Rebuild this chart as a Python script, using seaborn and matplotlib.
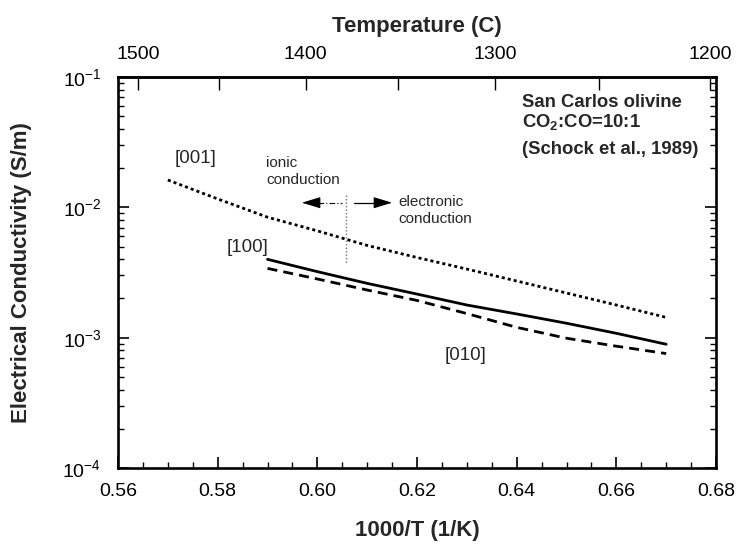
import numpy as np
import pandas as pd
import matplotlib
matplotlib.use("Agg")
import matplotlib.pyplot as plt
import seaborn as sns
from matplotlib.ticker import FixedLocator, LogLocator, NullFormatter, FormatStrFormatter

# ---------------- data ----------------
inv_T_001 = [0.57, 0.58, 0.59, 0.60, 0.61, 0.62, 0.63, 0.64, 0.65, 0.66, 0.67]
sigma_001 = [1.62e-2, 1.16e-2, 8.4e-3, 6.6e-3, 5.1e-3, 4.12e-3, 3.36e-3, 2.72e-3, 2.20e-3, 1.78e-3, 1.43e-3]

inv_T_100 = [0.59, 0.60, 0.61, 0.62, 0.63, 0.64, 0.65, 0.66, 0.67]
sigma_100 = [3.99e-3, 3.21e-3, 2.61e-3, 2.16e-3, 1.78e-3, 1.52e-3, 1.29e-3, 1.08e-3, 8.9e-4]

inv_T_010 = [0.59, 0.60, 0.61, 0.62, 0.63, 0.64, 0.65, 0.66, 0.67]
sigma_010 = [3.40e-3, 2.82e-3, 2.32e-3, 1.93e-3, 1.53e-3, 1.20e-3, 9.9e-4, 8.6e-4, 7.55e-4]

x_ticks = [0.56, 0.58, 0.60, 0.62, 0.64, 0.66, 0.68]
temp_ticks = [1500, 1400, 1300, 1200]
temp_minor = [1450, 1350, 1250]

# transition between ionic and electronic conduction
x_transition = 0.6058

# ---------------- style ----------------
sns.set_style("ticks")
plt.rcParams["font.family"] = ["Liberation Sans", "DejaVu Sans"]
plt.rcParams["mathtext.fontset"] = "custom"
plt.rcParams["mathtext.rm"] = "Liberation Sans"
plt.rcParams["mathtext.it"] = "Liberation Sans:italic"
plt.rcParams["mathtext.bf"] = "Liberation Sans:bold"
plt.rcParams["axes.unicode_minus"] = False

df = pd.concat([
    pd.DataFrame({"x": inv_T_001, "y": sigma_001, "dir": "[001]"}),
    pd.DataFrame({"x": inv_T_100, "y": sigma_100, "dir": "[100]"}),
    pd.DataFrame({"x": inv_T_010, "y": sigma_010, "dir": "[010]"}),
], ignore_index=True)

fig = plt.figure(figsize=(7.39, 5.44), dpi=100)
ax = fig.add_axes([0.1597, 0.1397, 0.8092, 0.7188])

sns.lineplot(data=df, x="x", y="y", style="dir",
             dashes={"[001]": (1.1, 1.1), "[100]": "", "[010]": (3.6, 2.2)},
             color="black", lw=2.0, sort=False, estimator=None,
             legend=False, ax=ax)

ax.set_yscale("log")
ax.set_xlim(0.56, 0.68)
ax.set_ylim(1e-4, 1e-1)

ax.set_xticks(x_ticks)
ax.xaxis.set_major_formatter(FormatStrFormatter("%.2f"))
ax.xaxis.set_minor_locator(FixedLocator(np.arange(0.565, 0.68, 0.005)))
ax.yaxis.set_major_locator(LogLocator(base=10, numticks=10))
ax.yaxis.set_minor_locator(LogLocator(base=10, subs=np.arange(2, 10), numticks=20))
ax.yaxis.set_minor_formatter(NullFormatter())

ax.tick_params(which="both", direction="in", top=False, right=True, colors="black")
ax.tick_params(which="major", length=8, width=1.2, labelsize=14)
ax.tick_params(which="minor", length=4.5, width=1.0)
ax.tick_params(axis="x", which="major", pad=11)
ax.tick_params(axis="y", which="major", pad=12)

for sp in ax.spines.values():
    sp.set_linewidth(1.9)
    sp.set_color("black")

ax.set_xlabel("1000/T (1/K)", fontsize=16, fontweight="bold")
ax.xaxis.set_label_coords(0.5, -0.159)
ax.xaxis.label.set_va("center")
ax.set_ylabel("Electrical Conductivity (S/m)", fontsize=16, fontweight="bold")
ax.yaxis.set_label_coords(-0.162, 0.5)
ax.yaxis.label.set_va("center")


def k_to_c(x):
    x = np.asarray(x, dtype=float)
    with np.errstate(divide="ignore", invalid="ignore"):
        return 1000.0 / x - 273.15


def c_to_k(t):
    t = np.asarray(t, dtype=float)
    with np.errstate(divide="ignore", invalid="ignore"):
        return 1000.0 / (t + 273.15)


secax = ax.secondary_xaxis("top", functions=(k_to_c, c_to_k))
secax.set_xticks(temp_ticks)
secax.xaxis.set_major_formatter(FormatStrFormatter("%d"))
secax.xaxis.set_minor_locator(FixedLocator(temp_minor))
secax.tick_params(which="both", direction="in", colors="black")
secax.tick_params(which="major", length=9, width=1.0, labelsize=14, pad=10)
secax.tick_params(which="minor", length=9, width=1.0)
secax.spines["top"].set_linewidth(1.9)
secax.set_xlabel("Temperature (C)", fontsize=16, fontweight="bold", labelpad=10)

# ---------------- annotations ----------------
ax.text(0.6410, 0.0591, "San Carlos olivine", fontsize=13.3, fontweight="bold", va="baseline")
ax.text(0.6410, 0.0416, r"CO$_{\mathbf{2}}$:CO=10:1", fontsize=13.3, fontweight="bold", va="baseline")
ax.text(0.6410, 0.0255, "(Schock et al., 1989)", fontsize=13.3, fontweight="bold", va="baseline")

ax.text(0.5714, 0.0218, "[001]", fontsize=13.5, va="baseline")
ax.text(0.5818, 0.00456, "[100]", fontsize=13.5, va="baseline")
ax.text(0.6256, 0.000673, "[010]", fontsize=13.5, va="baseline")

ax.text(0.5897, 0.0151, "ionic\nconduction", fontsize=11, va="baseline", linespacing=1.25)
ax.text(0.6162, 0.00762, "electronic\nconduction", fontsize=11, va="baseline", linespacing=1.25)

ax.plot([x_transition, x_transition], [1.24e-2, 3.74e-3], color="0.45",
        ls=(0, (1, 1.5)), lw=1.0)

y_arrow = 1.085e-2
ax.plot([0.6001, 0.6049], [y_arrow, y_arrow], color="black", lw=0.8, ls=(0, (5, 2, 1, 2)))
ax.annotate("", xy=(0.5969, y_arrow), xytext=(0.6001, y_arrow),
            arrowprops=dict(arrowstyle="-|>,head_length=1.15,head_width=0.35",
                            color="black", lw=0.8, shrinkA=0, shrinkB=0))
ax.plot([0.6074, 0.6116], [y_arrow, y_arrow], color="black", lw=0.9)
ax.annotate("", xy=(0.6150, y_arrow), xytext=(0.6116, y_arrow),
            arrowprops=dict(arrowstyle="-|>,head_length=1.15,head_width=0.35",
                            color="black", lw=0.8, shrinkA=0, shrinkB=0))

fig.savefig("out.png", dpi=100)
